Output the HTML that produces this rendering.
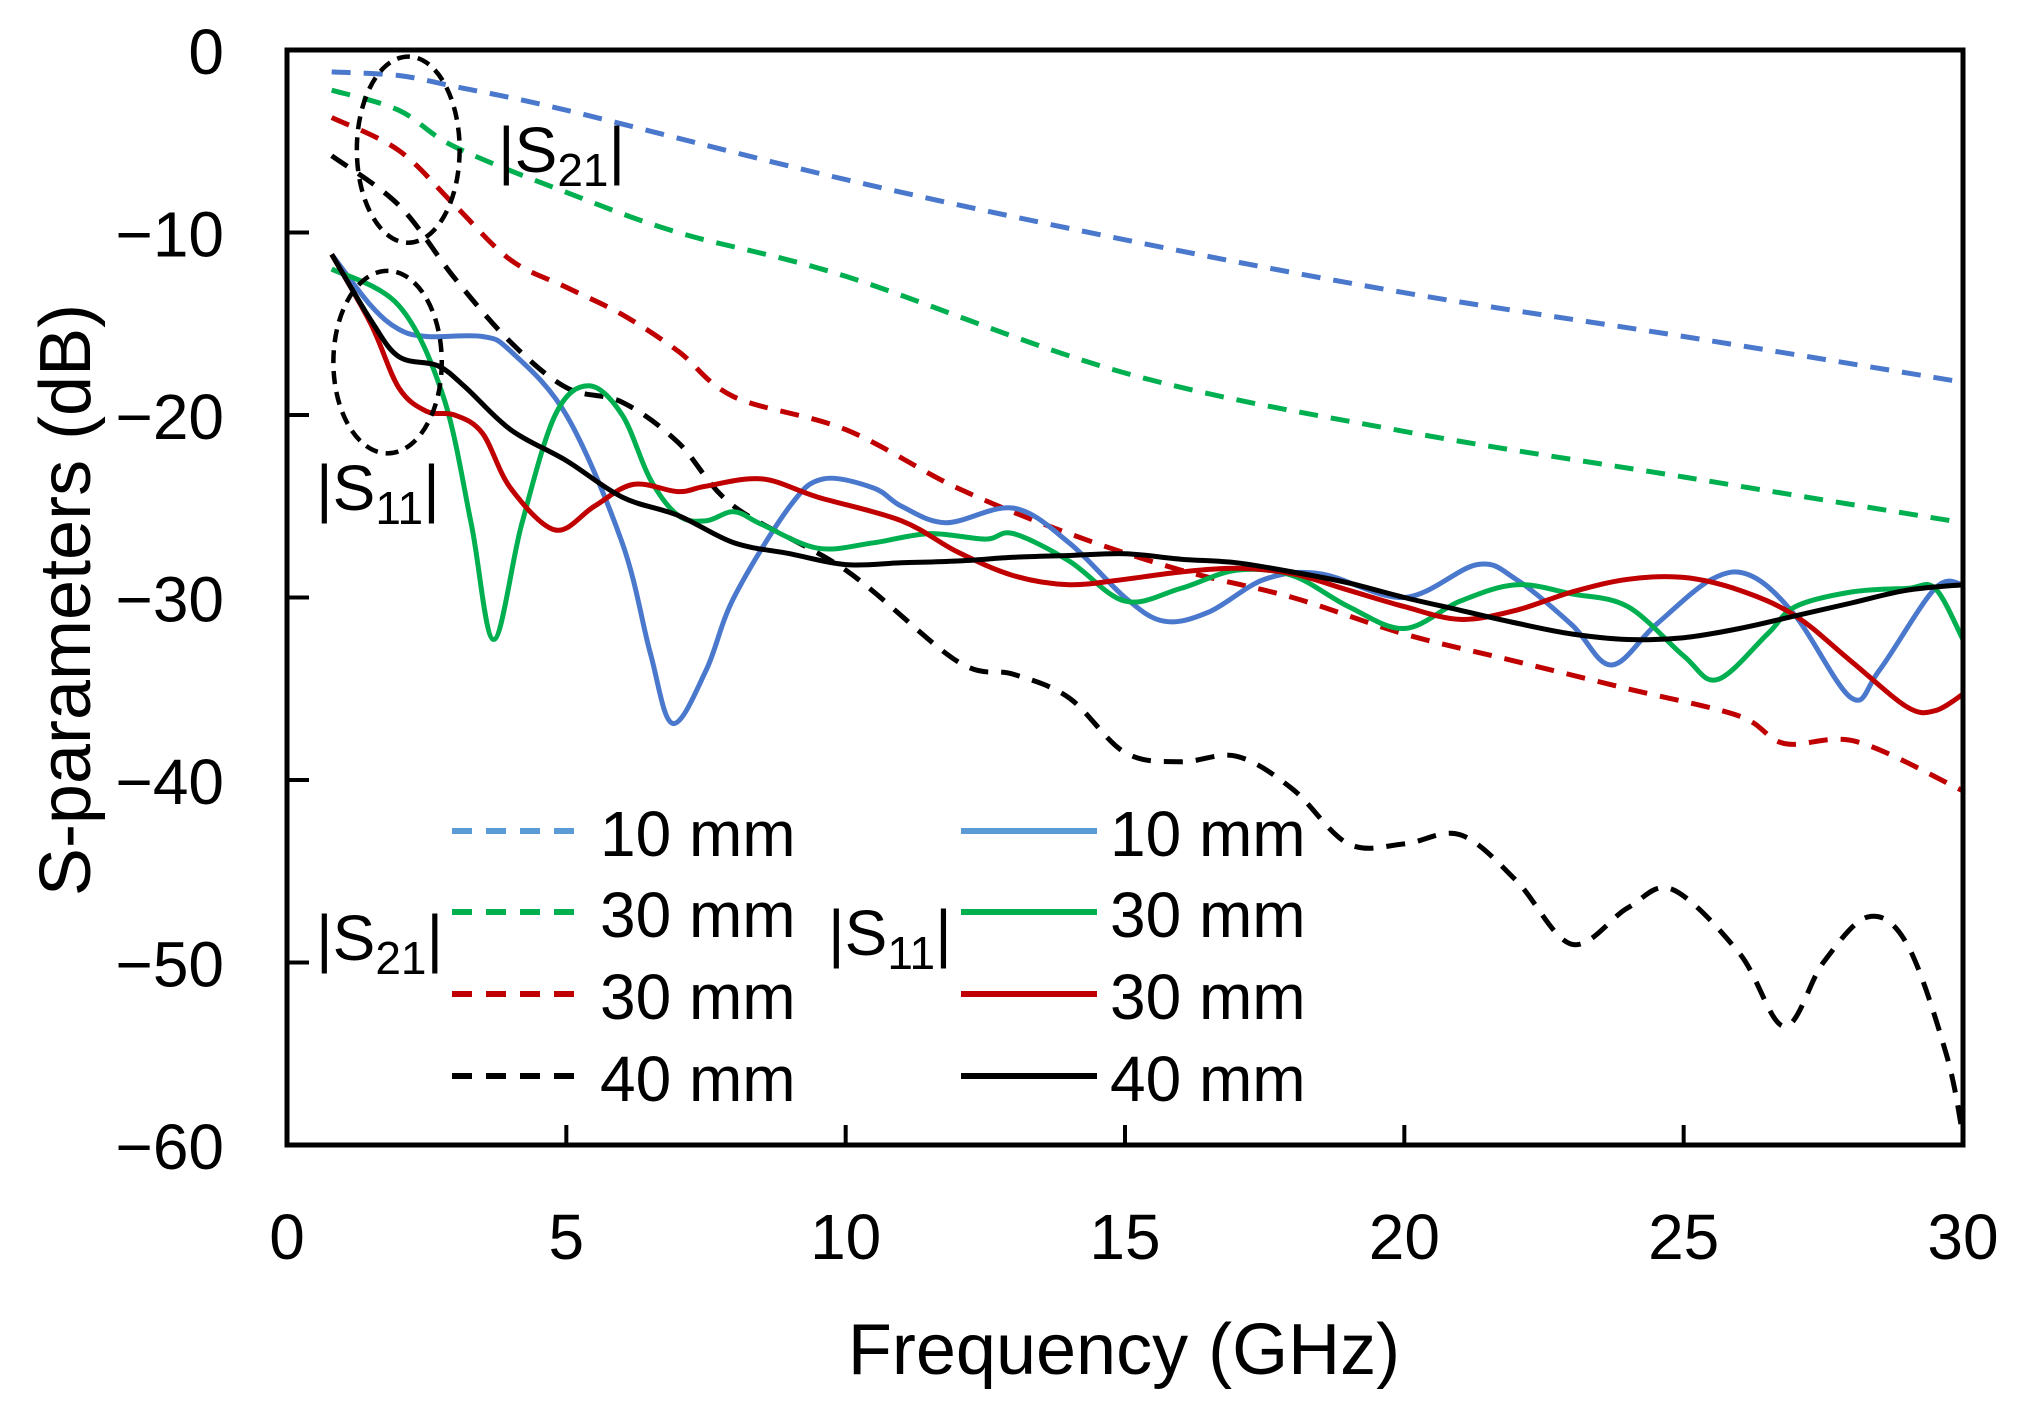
<!DOCTYPE html>
<html><head><meta charset="utf-8"><style>
html,body{margin:0;padding:0;background:#fff;}
svg{display:block;font-family:"Liberation Sans",sans-serif;}
</style></head><body>
<svg id="chart" width="2026" height="1416" viewBox="0 0 2026 1416">
<g id="curves"></g>
<g id="axes"></g>
<g id="legend"></g>
</svg>
<script>
const xTicks=[0,5,10,15,20,25,30];
const yTicks=[0,-10,-20,-30,-40,-50,-60];
const s21_10f=[0.8,2,3,5,10,15,20,25,30];
const s21_10v=[-1.2,-1.4,-2,-3.3,-7.1,-10.4,-13.3,-15.7,-18.2];
const s21_30f=[0.8,2,3,5,7,10,15,20,25,30];
const s21_30v=[-2.2,-3.3,-5.3,-7.8,-10,-12.4,-17.7,-20.9,-23.4,-25.9];
const s21_30bf=[0.8,2,3,4,5,6,7,8,10,12,14,16,18,20,22,24,26,26.8,28.1,30];
const s21_30bv=[-3.7,-5.5,-8.5,-11.5,-13,-14.5,-16.5,-19,-20.8,-24,-26.5,-28.5,-30,-32,-33.5,-35,-36.5,-38,-37.9,-40.6];
const s21_40f=[0.8,2,3,4,5,6,7,8,10,12,13,14,15,16,17,18,19,20,21,22,23,24,24.8,26,26.8,27.5,28.3,29,29.7,30];
const s21_40v=[-5.8,-8.5,-12.5,-16,-18.5,-19.3,-21.5,-25,-28.5,-33.5,-34.2,-35.5,-38.5,-39,-38.7,-40.5,-43.5,-43.5,-43,-45.5,-49,-47,-46,-49.5,-53.5,-50,-47.5,-49,-55,-59.5];
const s11_10f=[0.8,1.5,2,2.5,3.5,4,5,6,6.5,6.9,7.5,8,9,9.6,10.5,11,11.8,13,14,15,15.7,16.5,17.5,18.5,20,21.3,22,23,23.7,24.5,25.5,26.2,27,28,28.5,29.5,30];
const s11_10v=[-11.2,-14,-15.3,-15.7,-15.7,-16.5,-20,-27,-33,-36.9,-34,-30,-25,-23.5,-24,-25,-25.9,-25.1,-27,-30,-31.3,-30.8,-29,-28.7,-30,-28.2,-29,-31.5,-33.7,-31.5,-29,-28.8,-31,-35.5,-34,-29.5,-29.3];
const s11_30f=[0.8,2,2.8,3.3,3.7,4.2,4.8,5.4,6,6.5,7,7.5,8,8.5,9.5,10.5,11.5,12.5,13,14,15,16,17,18,19,20,21,22,23,24,25,25.6,26.5,27,28,29,29.5,30];
const s11_30v=[-12,-14,-19,-26,-32.3,-26,-20,-18.4,-20,-23.5,-25.5,-25.8,-25.3,-26,-27.3,-27,-26.5,-26.8,-26.5,-28,-30.2,-29.5,-28.5,-28.8,-30.5,-31.7,-30.2,-29.3,-29.8,-30.5,-33.2,-34.5,-32,-30.5,-29.7,-29.5,-29.5,-32.3];
const s11_30bf=[0.8,1.5,2,2.5,3,3.5,4,4.8,5.5,6.2,7,7.5,8.5,9.5,11,12,13,14,15,16,17,18,19,20,21,22,23,24,25,26,27,28,29,29.5,30];
const s11_30bv=[-11.2,-15,-18.5,-19.8,-20,-21,-24,-26.3,-25,-23.8,-24.2,-23.9,-23.5,-24.5,-25.8,-27.5,-28.8,-29.3,-29,-28.6,-28.4,-28.7,-29.6,-30.5,-31.2,-30.7,-29.7,-29,-28.9,-29.6,-31,-33.5,-36,-36.2,-35.3];
const s11_40f=[0.8,1.5,2,2.7,3.2,4,5,6,7,8,9,10,11,12,13,14,15,16,17,18,19,20,21,22,23,24,25,26,27,28,29,30];
const s11_40v=[-11.2,-14.8,-16.8,-17.3,-18.5,-20.8,-22.5,-24.5,-25.5,-27,-27.6,-28.2,-28.1,-28,-27.8,-27.7,-27.6,-27.9,-28.1,-28.6,-29.2,-30,-30.7,-31.4,-32,-32.3,-32.2,-31.7,-31,-30.3,-29.6,-29.3];

const X0=287,X1=1963,Y0=50,Y1=1145;
const sx=f=>X0+(f-0)/30*(X1-X0);
const sy=v=>Y0+(0-v)/60*(Y1-Y0);
const NS='http://www.w3.org/2000/svg';
function mk(tag,parent,attrs){const e=document.createElementNS(NS,tag);for(const k in attrs)e.setAttribute(k,attrs[k]);parent.appendChild(e);return e;}
function smooth(fs,vs){
  const p=fs.map((f,i)=>[sx(f),sy(vs[i])]);
  let d='M'+p[0][0].toFixed(1)+','+p[0][1].toFixed(1);
  for(let i=0;i<p.length-1;i++){
    const p0=p[i-1]||p[i],p1=p[i],p2=p[i+1],p3=p[i+2]||p2;
    const c1=[p1[0]+(p2[0]-p0[0])/6,p1[1]+(p2[1]-p0[1])/6];
    const c2=[p2[0]-(p3[0]-p1[0])/6,p2[1]-(p3[1]-p1[1])/6];
    d+='C'+c1.map(n=>n.toFixed(1)).join(',')+' '+c2.map(n=>n.toFixed(1)).join(',')+' '+p2[0].toFixed(1)+','+p2[1].toFixed(1);
  }
  return d;
}
const curves=document.getElementById('curves');
const BLUE='#4a78cc',GREEN='#00b050',RED='#c00000',BLACK='#000';
const series=[
 [s21_10f,s21_10v,BLUE,true,'s21-10mm-line'],
 [s21_30f,s21_30v,GREEN,true,'s21-30mm-green-line'],
 [s21_30bf,s21_30bv,RED,true,'s21-30mm-red-line'],
 [s21_40f,s21_40v,BLACK,true,'s21-40mm-line'],
 [s11_10f,s11_10v,BLUE,false,'s11-10mm-line'],
 [s11_30f,s11_30v,GREEN,false,'s11-30mm-green-line'],
 [s11_30bf,s11_30bv,RED,false,'s11-30mm-red-line'],
 [s11_40f,s11_40v,BLACK,false,'s11-40mm-line']];
series.forEach(s=>{
  const e=mk('path',curves,{d:smooth(s[0],s[1]),fill:'none',stroke:s[2],'stroke-width':5});
  if(s[3])e.setAttribute('stroke-dasharray','19 13');
  
  
});
const el1=mk('ellipse',curves,{cx:sx(2.17),cy:sy(-5.46),rx:sx(0.92)-sx(0),ry:sy(-5.1)-sy(0),fill:'none',stroke:'#000','stroke-width':4.5,'stroke-dasharray':'13 8'});


const el2=mk('ellipse',curves,{cx:sx(1.8),cy:sy(-17.1),rx:sx(0.97)-sx(0),ry:sy(-5)-sy(0),fill:'none',stroke:'#000','stroke-width':4.5,'stroke-dasharray':'13 8'});



const axes=document.getElementById('axes');
const frame=mk('rect',axes,{x:X0,y:Y0,width:X1-X0,height:Y1-Y0,fill:'none',stroke:'#000','stroke-width':5});


xTicks.forEach(t=>{
  const x=sx(t);
  if(t>0&&t<30){const l=mk('line',axes,{x1:x,x2:x,y1:Y1,y2:Y1-20,stroke:'#000','stroke-width':4});
  
  }
  const tx=mk('text',axes,{x:x,y:1259,'font-size':64,'text-anchor':'middle'});
  tx.textContent=t;
  
  
});
yTicks.forEach(t=>{
  const y=sy(t);
  if(t<0&&t>-60){const l=mk('line',axes,{x1:X0,x2:X0+22,y1:y,y2:y,stroke:'#000','stroke-width':4});
  
  }
  const tx=mk('text',axes,{x:224,y:y+24,'font-size':64,'text-anchor':'end'});
  tx.textContent=t===0?'0':'\u2212'+Math.abs(t);
  
  
});
</script>
<script>
(function(){
const NS='http://www.w3.org/2000/svg';
function mk(tag,parent,attrs){const e=document.createElementNS(NS,tag);for(const k in attrs)e.setAttribute(k,attrs[k]);parent.appendChild(e);return e;}
const axes=document.getElementById('axes');
const xt=mk('text',axes,{x:1124,y:1374,'font-size':72,'text-anchor':'middle'});
xt.textContent='Frequency (GHz)';


const yt=mk('text',axes,{x:0,y:0,'font-size':72,'text-anchor':'middle',transform:'translate(90,600) rotate(-90)'});
yt.textContent='S-parameters (dB)';


function sLabel(parent,x,y,sub,name){
  const t=mk('text',parent,{x:x,y:y,'font-size':64});
  t.innerHTML='|S<tspan font-size="46" dy="14">'+sub+'</tspan><tspan dy="-14">|</tspan>';
  
  
}
sLabel(axes,498,172,'21','s21-annotation');
sLabel(axes,316,510,'11','s11-annotation');
const lg=document.getElementById('legend');
sLabel(lg,316,960,'21','legend-s21-group-label');
sLabel(lg,828,955,'11','legend-s11-group-label');
const cols=['#5b9bd5','#00b050','#c00000','#000'];
const labels=['10 mm','30 mm','30 mm','40 mm'];
const rows=[831,912,994,1076];
rows.forEach((y,i)=>{
  const d=mk('line',lg,{x1:452,x2:588,y1:y,y2:y,stroke:cols[i],'stroke-width':6,'stroke-dasharray':'20 14'});
  
  
  const t1=mk('text',lg,{x:600,y:y+25,'font-size':64});
  t1.textContent=labels[i];
  
  
  const s=mk('line',lg,{x1:961,x2:1097,y1:y,y2:y,stroke:cols[i],'stroke-width':6});
  
  
  const t2=mk('text',lg,{x:1110,y:y+25,'font-size':64});
  t2.textContent=labels[i];
  
  
});
})();
</script>
</body></html>
